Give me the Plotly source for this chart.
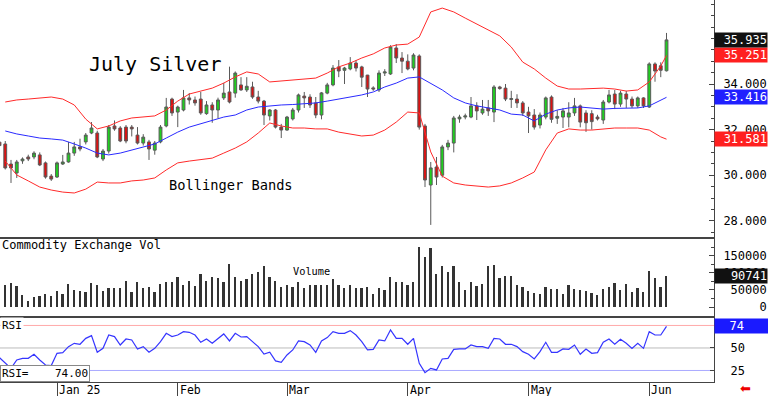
import plotly.graph_objects as go

# ---------------- data ----------------
months = {
    "2024-12": [17, 18, 19, 20, 23, 24, 26, 27, 30, 31],
    "2025-01": [2, 3, 6, 7, 8, 9, 10, 13, 14, 15, 16, 17, 21, 22, 23, 24, 27, 28, 29, 30, 31],
    "2025-02": [3, 4, 5, 6, 7, 10, 11, 12, 13, 14, 18, 19, 20, 21, 24, 25, 26, 27, 28],
    "2025-03": [3, 4, 5, 6, 7, 10, 11, 12, 13, 14, 17, 18, 19, 20, 21, 24, 25, 26, 27, 28, 31],
    "2025-04": [1, 2, 3, 4, 7, 8, 9, 10, 11, 14, 15, 16, 17, 21, 22, 23, 24, 25, 28, 29, 30],
    "2025-05": [1, 2, 5, 6, 7, 8, 9, 12, 13, 14, 15, 16, 19, 20, 21, 22, 23, 27, 28, 29, 30],
    "2025-06": [2, 3, 4, 5],
}
dates = [f"{m}-{d:02d}" for m, ds in months.items() for d in ds]

opens = [31.45, 31.37, 30.49, 30.10, 30.63, 30.80, 30.80, 30.89, 30.54, 29.96,
         29.92, 30.49, 30.58, 30.97, 31.24, 31.46, 31.85, 31.85, 30.71, 31.06,
         32.16, 32.07, 32.11, 32.11, 31.76, 31.41, 31.46, 31.10, 31.46, 32.16,
         33.34, 32.77, 32.86, 33.39, 33.30, 33.34, 32.70, 33.08, 32.86, 33.39,
         33.65, 33.60, 33.96, 33.74, 33.87, 33.43, 33.25, 32.60, 32.86, 32.11,
         31.98, 32.47, 32.86, 33.47, 33.43, 33.17, 32.64, 33.60, 33.96, 34.75,
         34.60, 34.66, 34.92, 34.75, 34.39, 33.83, 33.74, 34.48, 34.44, 35.58,
         35.14, 35.00, 34.70, 35.23, 32.16, 29.57, 30.36, 30.00, 31.24, 31.41,
         32.47, 32.55, 32.55, 33.04, 32.73, 32.95, 32.77, 33.87, 33.82, 33.32,
         33.34, 33.17, 32.77, 32.64, 32.20, 32.55, 33.43, 32.50, 32.55, 32.55,
         32.73, 33.04, 32.73, 32.70, 32.55, 32.42, 33.21, 33.56, 33.12, 33.56,
         33.34, 33.04, 33.39, 32.99, 34.88, 34.80, 34.58]
highs = [31.62, 31.50, 30.67, 30.67, 30.78, 30.90, 31.05, 31.00, 30.60, 30.05,
         30.60, 30.89, 31.46, 31.46, 31.60, 31.85, 32.33, 31.95, 31.15, 32.20,
         32.40, 32.15, 32.20, 32.20, 32.11, 31.80, 31.55, 31.50, 32.20, 33.39,
         33.40, 33.05, 33.74, 33.60, 33.45, 33.65, 33.25, 33.20, 33.40, 34.05,
         34.76, 34.55, 34.30, 34.30, 34.10, 33.70, 33.30, 32.90, 32.90, 32.25,
         32.60, 32.95, 33.58, 33.65, 33.55, 33.43, 33.65, 34.05, 34.83, 35.05,
         34.75, 35.18, 35.05, 34.80, 34.40, 33.90, 34.60, 34.65, 35.70, 35.75,
         35.40, 35.30, 35.35, 35.30, 32.25, 30.58, 30.80, 31.33, 31.55, 32.60,
         32.65, 32.70, 33.43, 33.20, 33.30, 33.30, 33.95, 33.92, 34.00, 33.70,
         33.55, 33.25, 33.00, 32.90, 32.75, 33.45, 33.50, 32.85, 32.95, 33.20,
         33.39, 33.10, 32.85, 32.85, 32.65, 33.30, 33.74, 33.74, 33.70, 33.70,
         33.45, 33.45, 33.42, 34.95, 34.95, 34.95, 36.24]
lows = [31.15, 30.25, 29.66, 29.88, 30.50, 30.62, 30.70, 30.40, 29.85, 29.75,
        29.88, 30.45, 30.55, 30.85, 31.05, 31.35, 31.80, 30.75, 30.62, 30.95,
        31.95, 31.45, 31.40, 31.70, 31.35, 31.30, 30.67, 30.90, 31.40, 32.10,
        32.60, 32.11, 32.80, 33.10, 33.05, 32.65, 32.65, 32.30, 32.50, 33.30,
        33.15, 33.40, 33.70, 33.65, 33.35, 33.15, 32.20, 32.40, 32.05, 31.63,
        31.95, 32.40, 32.75, 32.95, 32.95, 32.50, 32.45, 33.55, 33.90, 34.30,
        34.00, 34.60, 34.55, 33.87, 33.43, 33.70, 33.65, 34.35, 34.40, 34.92,
        34.48, 34.60, 34.60, 32.00, 29.48, 27.82, 29.57, 29.90, 31.10, 31.00,
        32.30, 32.45, 32.50, 32.42, 32.65, 32.60, 32.33, 33.75, 33.25, 32.95,
        32.95, 32.60, 31.85, 32.00, 32.05, 32.45, 32.30, 32.25, 32.07, 32.10,
        32.60, 32.10, 31.90, 32.00, 32.40, 32.25, 33.15, 32.90, 33.00, 32.95,
        32.95, 32.95, 32.95, 32.95, 34.10, 34.30, 34.55]
closes = [31.30, 30.32, 30.32, 30.58, 30.71, 30.71, 30.97, 30.45, 29.92, 29.83,
          30.54, 30.58, 30.97, 31.24, 31.15, 31.76, 32.07, 30.80, 31.06, 32.11,
          32.03, 31.50, 31.50, 32.03, 31.41, 31.67, 31.15, 31.41, 32.11, 32.99,
          32.73, 32.99, 33.39, 33.30, 33.17, 32.73, 33.08, 32.86, 33.30, 33.60,
          33.21, 34.48, 33.74, 33.90, 33.43, 33.25, 32.64, 32.86, 32.11, 31.98,
          32.55, 32.86, 33.52, 33.39, 33.08, 32.64, 33.61, 33.96, 34.70, 34.57,
          34.70, 34.92, 34.70, 34.30, 33.78, 33.78, 34.48, 34.53, 35.62, 35.14,
          35.00, 34.66, 35.27, 32.11, 29.79, 30.32, 29.92, 31.24, 31.41, 32.51,
          32.55, 32.60, 33.04, 32.82, 32.90, 32.82, 33.87, 33.80, 33.34, 33.36,
          33.17, 32.73, 32.60, 32.11, 32.64, 33.39, 32.45, 32.58, 32.82, 32.73,
          33.04, 32.33, 32.30, 32.35, 32.47, 33.21, 33.52, 33.12, 33.60, 33.34,
          33.04, 33.39, 33.04, 34.88, 34.57, 34.60, 35.935]

volume = [49700, 64300, 69200, 61400, 35100, 17500, 30200, 33100, 38000, 32100,
          46800, 37000, 66200, 49700, 46800, 44800, 69200, 64300, 46800, 56500,
          54600, 54600, 76000, 44800, 74000, 54600, 57500, 44800, 67200, 74000,
          74000, 86700, 64300, 76000, 61400, 96500, 76000, 86700, 85700, 74000,
          124700, 86700, 76000, 80900, 95500, 103300, 120800, 86700, 76000, 57500,
          64300, 57500, 72100, 54600, 64300, 64300, 64300, 64300, 81800, 64300,
          56500, 64300, 54600, 54600, 57500, 37000, 54600, 49700, 86700, 74000,
          72100, 64300, 72100, 176300, 147100, 171500, 96500, 120800, 101400, 119800,
          72100, 49700, 74000, 61400, 66200, 120800, 122800, 85700, 91600, 91600,
          64300, 57500, 46800, 39900, 37000, 59400, 52600, 52600, 37000, 64300,
          51600, 49700, 46800, 41900, 35100, 52600, 59400, 69200, 49700, 66200,
          44800, 56500, 44800, 105200, 85700, 59400, 90741]

rsi = [39.3, 33.0, 27.4, 36.7, 38.5, 38.5, 43.0, 36.7, 31.1, 30.4,
       44.1, 44.8, 51.5, 55.2, 54.1, 60.7, 63.7, 45.2, 49.6, 64.4,
       62.6, 53.3, 60.0, 58.9, 48.9, 51.5, 45.2, 49.6, 57.0, 66.3,
       62.6, 64.4, 68.1, 67.4, 64.4, 56.3, 60.0, 55.2, 60.7, 65.6,
       57.8, 66.3, 62.2, 62.6, 57.0, 51.5, 43.3, 45.2, 35.6, 34.1,
       42.2, 47.8, 57.8, 57.0, 53.3, 45.2, 57.8, 61.5, 68.1, 66.3,
       66.3, 69.3, 64.4, 57.0, 47.8, 48.5, 58.9, 57.8, 70.0, 60.7,
       60.7, 54.1, 60.7, 33.0, 22.6, 27.4, 25.6, 37.8, 38.5, 48.5,
       48.9, 48.9, 53.3, 51.5, 51.5, 49.6, 60.7, 60.0, 54.1, 54.1,
       51.5, 45.9, 43.0, 37.8, 45.9, 56.3, 45.2, 45.2, 48.9, 48.5,
       53.3, 43.0, 48.9, 44.1, 44.8, 56.3, 60.0, 54.1, 59.6, 55.2,
       49.6, 55.2, 49.6, 68.1, 64.4, 64.4, 74.0]

# Bollinger band values read every second session (plus the last one)
bb_dates = dates[1::2] + [dates[-1]]
bb_upper = [33.21, 33.30, 33.34, 33.39, 33.43, 33.34, 33.08, 32.46, 32.03, 32.16,
            32.38, 32.51, 32.55, 32.60, 32.86, 33.25, 33.56, 33.69, 33.82, 34.04,
            34.31, 34.53, 34.44, 34.09, 34.13, 34.18, 34.22, 34.26, 34.48, 34.75,
            34.92, 35.14, 35.32, 35.58, 35.71, 35.75, 36.06, 37.16, 37.33, 37.16,
            36.89, 36.63, 36.37, 36.11, 35.62, 34.96, 34.66, 34.26, 33.91, 33.78,
            33.78, 33.80, 33.82, 33.78, 33.69, 33.74, 34.09, 34.79, 35.251]
bb_mid = [31.94, 31.81, 31.72, 31.63, 31.59, 31.54, 31.37, 31.19, 30.97, 30.89,
          30.97, 31.11, 31.24, 31.37, 31.63, 31.89, 32.11, 32.25, 32.38, 32.55,
          32.64, 32.86, 32.99, 33.04, 33.08, 33.10, 33.12, 33.17, 33.25, 33.34,
          33.43, 33.52, 33.65, 33.87, 34.04, 34.26, 34.31, 34.04, 33.74, 33.39,
          33.17, 33.04, 32.95, 32.86, 32.68, 32.64, 32.38, 32.68, 32.86, 32.95,
          32.99, 32.95, 32.90, 32.93, 32.95, 32.95, 33.04, 33.30, 33.416]
bb_lower = [30.62, 30.01, 29.75, 29.48, 29.35, 29.26, 29.22, 29.39, 29.70, 29.66,
            29.66, 29.75, 29.79, 29.88, 30.23, 30.54, 30.62, 30.67, 30.75, 30.97,
            31.19, 31.46, 31.85, 32.29, 32.16, 32.07, 32.07, 32.03, 32.03, 31.89,
            31.81, 31.72, 31.76, 31.98, 32.33, 32.77, 32.73, 31.02, 29.96, 29.66,
            29.57, 29.53, 29.48, 29.53, 29.66, 29.88, 30.14, 31.11, 31.85, 32.03,
            31.98, 31.98, 32.03, 32.07, 32.07, 32.07, 31.98, 31.68, 31.581]

month_ticks = ["2025-01-02", "2025-02-03", "2025-03-03", "2025-04-01", "2025-05-01", "2025-06-02"]
month_labels = ["Jan 25", "Feb", "Mar", "Apr", "May", "Jun"]

price_ticks = [28, 30, 32, 34]
vol_ticks = [0, 50000, 100000, 150000]
rsi_levels = [75, 50, 25]
rsi_ticks = [25, 50]

# ---------------- styling ----------------
MONO = "DejaVu Sans Mono"
RED = "#ff2a2a"
BLUE = "#2a2aff"
AXC = "#444444"

fig = go.Figure()

fig.add_trace(go.Scatter(x=bb_dates, y=bb_upper, mode="lines", line=dict(color=RED, width=1),
                         xaxis="x", yaxis="y", hoverinfo="skip", showlegend=False))
fig.add_trace(go.Scatter(x=bb_dates, y=bb_lower, mode="lines", line=dict(color=RED, width=1),
                         xaxis="x", yaxis="y", hoverinfo="skip", showlegend=False))
fig.add_trace(go.Scatter(x=bb_dates, y=bb_mid, mode="lines", line=dict(color=BLUE, width=1),
                         xaxis="x", yaxis="y", hoverinfo="skip", showlegend=False))
fig.add_trace(go.Candlestick(
    x=dates, open=opens, high=highs, low=lows, close=closes,
    increasing=dict(line=dict(color="#5a5a5a", width=1), fillcolor="#1fd01f"),
    decreasing=dict(line=dict(color="#5a5a5a", width=1), fillcolor="#dd1111"),
    whiskerwidth=0, xaxis="x", yaxis="y", hoverinfo="skip", showlegend=False))

fig.add_trace(go.Bar(x=dates, y=volume, marker=dict(color="#333333", line=dict(width=0)),
                     width=0.32, xaxis="x2", yaxis="y2", hoverinfo="skip", showlegend=False))

fig.add_trace(go.Scatter(x=dates, y=rsi, mode="lines", line=dict(color="#3535ff", width=1.2),
                         xaxis="x3", yaxis="y3", hoverinfo="skip", showlegend=False))

xr = [0.087, 124.26]
base_x = dict(type="category", categoryorder="array", categoryarray=dates, range=xr,
              showgrid=False, zeroline=False, fixedrange=True, showticklabels=False)

W, H = 768, 396
PLOT_H = 382.0


def pdom(top_px, bot_px):
    return [(PLOT_H - bot_px) / PLOT_H, (PLOT_H - top_px) / PLOT_H]


def py(px):
    return (PLOT_H - px) / PLOT_H


shapes = []
line_cols = {75: "#ffaaaa", 50: "#bbbbbb", 25: "#aaaaff"}
for lv in rsi_levels:
    shapes.append(dict(type="line", xref="paper", x0=0, x1=1, yref="y3", y0=lv, y1=lv,
                       line=dict(color=line_cols[lv], width=1), layer="below"))

annotations = []


def value_label(val, yref, text, bg, width=52, align="right"):
    annotations.append(dict(x=1, xref="paper", xanchor="left", y=val, yref=yref, yanchor="middle",
                            text=text, showarrow=False, bgcolor=bg, width=width, align=align,
                            borderpad=0, font=dict(family=MONO, size=12, color="white")))


value_label(bb_upper[-1], "y", f"{bb_upper[-1]:.3f}", "#ff2020")
value_label(bb_mid[-1], "y", f"{bb_mid[-1]:.3f}", "#2020ff")
value_label(bb_lower[-1], "y", f"{bb_lower[-1]:.3f}", "#ff2020")
value_label(closes[-1], "y", f"{closes[-1]:.3f}", "#111111")
value_label(volume[-1], "y2", f"{volume[-1]}", "#111111")
value_label(rsi[-1], "y3", "\u00a0\u00a0" + f"{rsi[-1]:.0f}", "#1a1aff", width=54, align="left")


def txt(x, y, text, size, anchor="left", yanchor="middle", color="black", family=MONO, **kw):
    d = dict(x=x, y=y, xref="paper", yref="paper", text=text, showarrow=False,
             xanchor=anchor, yanchor=yanchor, font=dict(family=family, size=size, color=color))
    d.update(kw)
    annotations.append(d)


txt(87 / 714, py(64), "July Silver", 20)
txt(167 / 714, py(185), "Bollinger Bands", 13.7)
txt(0, py(245), "Commodity Exchange Vol", 12)
txt(291 / 714, py(271), "Volume", 10.3)
txt(0, py(325), "RSI", 11, bgcolor="white")
txt(0, 0, "RSI=\u00a0\u00a0\u00a0\u00a0" + f"{rsi[-1]:.2f}", 11, yanchor="bottom",
    bgcolor="white", bordercolor="#888888", borderwidth=1, borderpad=1)
txt(745 / 714, py(388.5), "\u2b05", 13, anchor="center", color="#ee0000", family="DejaVu Sans")

for d, lab in zip(month_ticks, month_labels):
    annotations.append(dict(x=d, xref="x3", y=py(389.5), yref="paper", text=lab, showarrow=False,
                            xanchor="left", yanchor="middle", xshift=1, borderpad=0,
                            font=dict(family=MONO, size=11.5, color="black")))

fig.update_layout(
    width=W, height=H,
    margin=dict(l=0, r=54, t=0, b=14),
    paper_bgcolor="white", plot_bgcolor="white",
    showlegend=False, bargap=0,
    xaxis=dict(base_x, domain=[0, 1], anchor="y", showline=True, linecolor=AXC, linewidth=2,
               rangeslider=dict(visible=False)),
    xaxis2=dict(base_x, domain=[0, 1], anchor="y2", showline=True, linecolor=AXC, linewidth=2),
    xaxis3=dict(base_x, domain=[0, 1], anchor="y3", showline=True, linecolor=AXC, linewidth=1,
                ticks="outside", ticklen=14, tickcolor=AXC, tickvals=month_ticks, tickmode="array"),
    yaxis=dict(domain=pdom(0, 237), range=[27.29, 37.684], side="right", showgrid=False,
               zeroline=False, showline=True, linecolor=AXC, linewidth=1,
               ticks="inside", ticklen=5, tickcolor=AXC,
               tickmode="array", tickvals=price_ticks, ticktext=[f"{v:.3f}" for v in price_ticks],
               tickfont=dict(family=MONO, size=12, color="black"), ticklabelstandoff=6,
               minor=dict(ticks="inside", ticklen=3, tickcolor=AXC, dtick=0.5, tick0=0),
               fixedrange=True),
    yaxis2=dict(domain=pdom(238, 316), range=[-26300, 201700], side="right", showgrid=False,
                zeroline=False, showline=True, linecolor=AXC, linewidth=1,
                ticks="inside", ticklen=5, tickcolor=AXC,
                tickmode="array", tickvals=vol_ticks,
                ticktext=[f"{v:>6d}".replace(" ", "\u00a0") for v in vol_ticks],
                tickfont=dict(family=MONO, size=12, color="black"), ticklabelstandoff=6,
                minor=dict(ticks="inside", ticklen=3, tickcolor=AXC, dtick=25000, tick0=0),
                fixedrange=True),
    yaxis3=dict(domain=pdom(317, 382), range=[12.2, 84.4], side="right", showgrid=False,
                zeroline=False, showline=True, linecolor=AXC, linewidth=1,
                ticks="inside", ticklen=4, tickcolor=AXC,
                tickmode="array", tickvals=rsi_ticks,
                ticktext=["\u00a0" + str(v) for v in rsi_ticks],
                tickfont=dict(family=MONO, size=12, color="black"), ticklabelstandoff=6,
                fixedrange=True),
    shapes=shapes,
    annotations=annotations,
)

fig.write_html("out.html", config={"displayModeBar": False},
               post_script="document.body.style.margin='0';document.body.style.overflow='hidden';")
